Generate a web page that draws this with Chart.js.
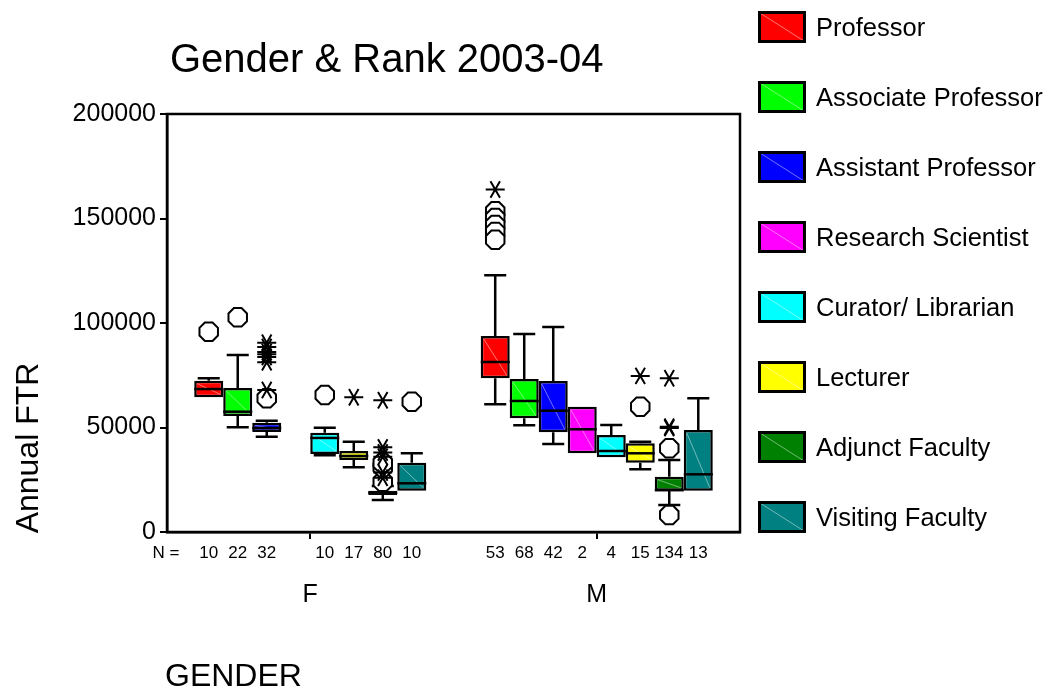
<!DOCTYPE html>
<html>
<head>
<meta charset="utf-8">
<script src="https://cdn.jsdelivr.net/npm/chart.js@4"></script>
<style>
  html, body { margin: 0; padding: 0; background: #fff; }
  #wrap { width: 1050px; height: 692px; }
</style>
</head>
<body>
<div id="wrap"><canvas id="boxChart" width="1050" height="692"></canvas></div>
<script>
const FONT = '"Liberation Sans", Arial, sans-serif';

const genders = ["F", "M"];
const ranks = ["Professor", "Associate Professor", "Assistant Professor", "Research Scientist",
               "Curator/ Librarian", "Lecturer", "Adjunct Faculty", "Visiting Faculty"];
const rankColors = ["#ff0000", "#00ff00", "#0000ff", "#ff00ff", "#00ffff", "#ffff00", "#008000", "#008080"];
const yTicks = [0, 50000, 100000, 150000, 200000];

// case counts (null = no box)
const nF = [10, 22, 32, null, 10, 17, 80, 10];
const nM = [53, 68, 42, 2, 4, 15, 134, 13];

// F boxes: whisker low, Q1, median, Q3, whisker high
const loF  = [64450, 50100, 45600, null, 36700, 30960, 15300, 19760];
const q1F  = [64450, 55500, 47850, null, 37320, 34450, 17700, 19760];
const medF = [68400, 57560, 49760, null, 45000, 36370, 18800, 23300];
const q3F  = [72400, 68900, 52300, null, 47500, 38760, 19760, 33160];
const hiF  = [73550, 84700, 53260, null, 49900, 43200, 22000, 37660];

// M boxes
const loM  = [61100, 51060, 42100, 37660, 35740, 30000, 12920, 19760];
const q1M  = [73550, 54400, 47700, 37660, 35740, 33160, 19760, 19760];
const medM = [81350, 62700, 58040, 49140, 38760, 37660, 20000, 27600];
const q3M  = [93790, 73200, 72250, 59960, 46400, 42440, 26460, 48800];
const hiM  = [122830, 94740, 98090, 59960, 51200, 43200, 34450, 63970];

// outliers (circles) and extremes (stars)
const circF = [[95850], [102700], [63980], [], [65550], [], [24000, 31000, 33000], [62350]];
const starF = [[], [], [90580, 88500, 86100, 85000, 83700, 81200, 67950], [], [], [64450],
               [26000, 28500, 36000, 38000, 40500, 63000], []];
const circM = [[153450, 150200, 146900, 143600, 139800], [], [], [], [], [59960], [40050, 8130], []];
const starM = [[163900], [], [], [], [], [74700], [73550, 50400, 49800], []];

const lo = [loF, loM], q1 = [q1F, q1M], med = [medF, medM], q3 = [q3F, q3M], hi = [hiF, hiM];
const circ = [circF, circM], star = [starF, starM], nCount = [nF, nM];

function drawOctagon(ctx, x, y, r) {
  ctx.beginPath();
  for (let k = 0; k < 8; k++) {
    const a = Math.PI / 8 + k * Math.PI / 4;
    const px = x + r * Math.cos(a), py = y + r * Math.sin(a);
    k ? ctx.lineTo(px, py) : ctx.moveTo(px, py);
  }
  ctx.closePath();
  ctx.fillStyle = "#fff";
  ctx.fill();
  ctx.stroke();
}

function drawStar(ctx, x, y, r) {
  ctx.beginPath();
  [0, Math.PI / 3, 2 * Math.PI / 3].forEach(a => {
    ctx.moveTo(x - r * Math.cos(a), y - r * Math.sin(a));
    ctx.lineTo(x + r * Math.cos(a), y + r * Math.sin(a));
  });
  ctx.stroke();
}

// medians, whiskers, outliers and N row, placed from the bar elements
const boxExtras = {
  id: "boxExtras",
  afterDatasetsDraw(chart) {
    const ctx = chart.ctx, ys = chart.scales.y;
    ctx.save();
    ctx.strokeStyle = "#000";
    chart.data.datasets.forEach((ds, ri) => {
      const meta = chart.getDatasetMeta(ri);
      meta.data.forEach((bar, gi) => {
        if (q1[gi][ri] == null) return;
        const x = bar.x, w = bar.width, half = w / 2, cap = w * 0.38;
        const yQ1 = ys.getPixelForValue(q1[gi][ri]), yQ3 = ys.getPixelForValue(q3[gi][ri]);
        // faint diagonal
        ctx.save();
        ctx.strokeStyle = "rgba(255,255,255,0.45)";
        ctx.lineWidth = 1;
        ctx.beginPath();
        ctx.moveTo(x - half + 3, yQ3 + 3);
        ctx.lineTo(x + half - 3, yQ1 - 3);
        ctx.stroke();
        ctx.restore();
        // median
        ctx.lineWidth = 2.5;
        const yMed = ys.getPixelForValue(med[gi][ri]);
        ctx.beginPath();
        ctx.moveTo(x - half, yMed);
        ctx.lineTo(x + half, yMed);
        ctx.stroke();
        // whiskers
        const yHi = ys.getPixelForValue(hi[gi][ri]), yLo = ys.getPixelForValue(lo[gi][ri]);
        ctx.beginPath();
        if (hi[gi][ri] > q3[gi][ri]) {
          ctx.moveTo(x, yQ3); ctx.lineTo(x, yHi);
          ctx.moveTo(x - cap, yHi); ctx.lineTo(x + cap, yHi);
        }
        if (lo[gi][ri] < q1[gi][ri]) {
          ctx.moveTo(x, yQ1); ctx.lineTo(x, yLo);
          ctx.moveTo(x - cap, yLo); ctx.lineTo(x + cap, yLo);
        }
        ctx.stroke();
        ctx.lineWidth = 2;
        circ[gi][ri].forEach(v => drawOctagon(ctx, x, ys.getPixelForValue(v), 10));
        star[gi][ri].forEach(v => drawStar(ctx, x, ys.getPixelForValue(v), 9.5));
        // N
        ctx.fillStyle = "#000";
        ctx.font = "17px " + FONT;
        ctx.textAlign = "center";
        ctx.textBaseline = "middle";
        ctx.fillText(String(nCount[gi][ri]), x, 553);
      });
    });
    ctx.restore();
  },
  afterDraw(chart) {
    const ctx = chart.ctx, a = chart.chartArea;
    ctx.save();
    ctx.strokeStyle = "#000";
    ctx.lineWidth = 2.5;
    ctx.strokeRect(a.left, a.top, a.right - a.left, a.bottom - a.top);

    ctx.fillStyle = "#000";
    ctx.textBaseline = "middle";
    ctx.textAlign = "left";
    ctx.font = "40px " + FONT;
    ctx.fillText("Gender & Rank 2003-04", 170, 61);
    ctx.font = "32px " + FONT;
    ctx.fillText("GENDER", 165, 677);
    ctx.font = "17px " + FONT;
    ctx.textAlign = "center";
    ctx.fillText("N =", 166, 553);

    ctx.save();
    ctx.translate(29, 448);
    ctx.rotate(-Math.PI / 2);
    ctx.font = "32px " + FONT;
    ctx.fillText("Annual FTR", 0, 0);
    ctx.restore();

    // legend
    ctx.textAlign = "left";
    ctx.font = "25.5px " + FONT;
    ranks.forEach((r, i) => {
      const cy = 27 + i * 70;
      ctx.fillStyle = rankColors[i];
      ctx.fillRect(758, cy - 16, 48, 32);
      ctx.strokeStyle = "rgba(255,255,255,0.45)";
      ctx.lineWidth = 1;
      ctx.beginPath();
      ctx.moveTo(760, cy - 14);
      ctx.lineTo(804, cy + 14);
      ctx.stroke();
      ctx.strokeStyle = "#000";
      ctx.lineWidth = 3;
      ctx.strokeRect(759.5, cy - 14.5, 45, 29);
      ctx.fillStyle = "#000";
      ctx.fillText(r, 816, cy + 2);
    });
    ctx.restore();
  }
};

const datasets = ranks.map((r, ri) => ({
  label: r,
  data: genders.map((g, gi) => q1[gi][ri] == null ? null : [q1[gi][ri], q3[gi][ri]]),
  backgroundColor: rankColors[ri],
  borderColor: "#000",
  borderWidth: 2.5,
  borderSkipped: false,
  categoryPercentage: 0.81,
  barPercentage: 1.0
}));

new Chart(document.getElementById("boxChart"), {
  type: "bar",
  data: { labels: genders, datasets },
  options: {
    responsive: false,
    animation: false,
    layout: { padding: { top: 114, right: 310, left: 0, bottom: 0 } },
    plugins: { legend: { display: false }, tooltip: { enabled: false }, title: { display: false } },
    scales: {
      x: {
        grid: { drawOnChartArea: false, offset: false, tickLength: 7, color: "#000", lineWidth: 2 },
        border: { color: "#000", width: 2.5 },
        ticks: { color: "#000", font: { family: FONT, size: 25 }, padding: 41 },
        afterFit: s => { s.height = 160; }
      },
      y: {
        min: 0, max: 200000,
        afterBuildTicks: s => { s.ticks = yTicks.map(v => ({ value: v })); },
        grid: { drawOnChartArea: false, tickLength: 7, color: "#000", lineWidth: 2 },
        border: { color: "#000", width: 2.5 },
        ticks: { color: "#000", font: { family: FONT, size: 25 }, padding: 4, callback: v => String(v) },
        afterFit: s => { s.width = 167; }
      }
    }
  },
  plugins: [boxExtras]
});
</script>
</body>
</html>
